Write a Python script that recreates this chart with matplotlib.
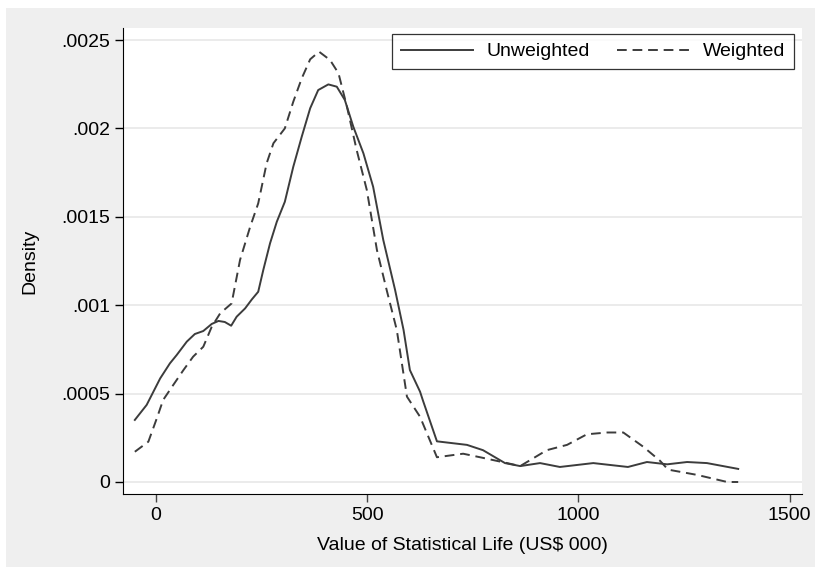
import numpy as np
import matplotlib.pyplot as plt
from matplotlib.patches import Rectangle

# kernel density estimates
x_unw = [-50, -22, -6, 10, 33, 49, 73, 92, 112, 132, 148, 163, 178, 191, 211,
         227, 242, 254, 270, 286, 305, 325, 345, 365, 384, 408, 428, 447, 467,
         491, 514, 538, 566, 586, 601, 625, 632, 665,
         736, 774, 826, 862, 909, 956, 1035, 1117, 1162, 1210, 1257, 1304, 1378]
y_unw = [0.000351, 0.000436, 0.000511, 0.000586, 0.000671, 0.000718, 0.000794,
         0.000837, 0.000854, 0.000894, 0.000911, 0.000905, 0.000884, 0.000935,
         0.000982, 0.001033, 0.001076, 0.001199, 0.00135, 0.001472, 0.001585,
         0.001783, 0.001953, 0.002114, 0.002217, 0.002249, 0.002236, 0.002161,
         0.00201, 0.001859, 0.00167, 0.001369, 0.001086, 0.00086, 0.000633,
         0.000511, 0.00046, 0.00023,
         0.00021, 0.00018, 0.000107, 0.00009, 0.000107, 0.000085, 0.000107,
         0.000085, 0.000113, 0.0001, 0.000113, 0.000107, 0.000074]

x_w = [-50, -18, 2, 17, 41, 65, 88, 112, 132, 152, 179, 199, 223, 242, 262,
       278, 305, 325, 345, 365, 386, 412, 432, 452, 475, 499, 523, 546, 570,
       594, 625, 665, 727,
       767, 831, 862, 925, 973, 1020, 1068, 1106, 1153, 1193, 1212, 1281, 1352, 1378]
y_w = [0.000171, 0.000228, 0.00036, 0.000464, 0.000549, 0.000633, 0.000709,
       0.000765, 0.000878, 0.000954, 0.00101, 0.001256, 0.001444, 0.001576,
       0.001803, 0.001916, 0.002, 0.002151, 0.002283, 0.002391, 0.002434,
       0.002387, 0.002312, 0.002123, 0.001878, 0.001652, 0.001312, 0.001086,
       0.00086, 0.000483, 0.000369, 0.00014, 0.00016,
       0.00014, 0.000107, 0.00009, 0.00018, 0.00021, 0.00027, 0.00028, 0.00028,
       0.0002, 0.00012, 0.00007, 0.00004, 0.0, 0.0]

yticks = [0, 0.0005, 0.001, 0.0015, 0.002, 0.0025]
ylabels = ["0", ".0005", ".001", ".0015", ".002", ".0025"]
xticks = [0, 500, 1000, 1500]

plt.rcParams['font.family'] = ['Liberation Sans', 'DejaVu Sans']
plt.rcParams['font.size'] = 14

fig = plt.figure(figsize=(8.15, 5.67), dpi=100, facecolor="white")
fig.patches.append(Rectangle((6/815, 0), 1, (567-8)/567, transform=fig.transFigure,
                             facecolor="#efefef", edgecolor="none", zorder=-10))
ax = fig.add_axes([123/815, 73/567, (802-123)/815, (494-28)/567])
ax.set_facecolor("white")

ax.plot(x_unw, y_unw, color="#3c3c3c", lw=1.4, label="Unweighted")
ax.plot(x_w, y_w, color="#3c3c3c", lw=1.4, dashes=(5, 3), label="Weighted")

ax.set_xlim(-78, 1529)
ax.set_ylim(-0.0000679, 0.002568)
ax.set_yticks(yticks)
ax.set_yticklabels(ylabels)
ax.set_xticks(xticks)
ax.grid(axis="y", color="#e8e8e8", lw=1.2)
ax.set_axisbelow(True)
for s in ["top", "right"]:
    ax.spines[s].set_visible(False)
ax.spines["left"].set_color("black")
ax.spines["bottom"].set_color("black")
ax.tick_params(direction="out", length=6, width=1, colors="black")
ax.tick_params(axis="x", colors="#444444", labelcolor="black")

ax.set_xlabel("Value of Statistical Life (US$ 000)", labelpad=9)
ax.set_ylabel("Density", labelpad=16)

leg = ax.legend(loc="upper right", ncol=2, frameon=True, fancybox=False,
                edgecolor="black", handlelength=3.7, handletextpad=0.7,
                columnspacing=1.4, borderaxespad=0,
                bbox_to_anchor=(1 - 8/679, 1 - 6/466), borderpad=0.45)
leg.get_frame().set_linewidth(0.9)

plt.savefig("out.png", dpi=100, facecolor=fig.get_facecolor())
